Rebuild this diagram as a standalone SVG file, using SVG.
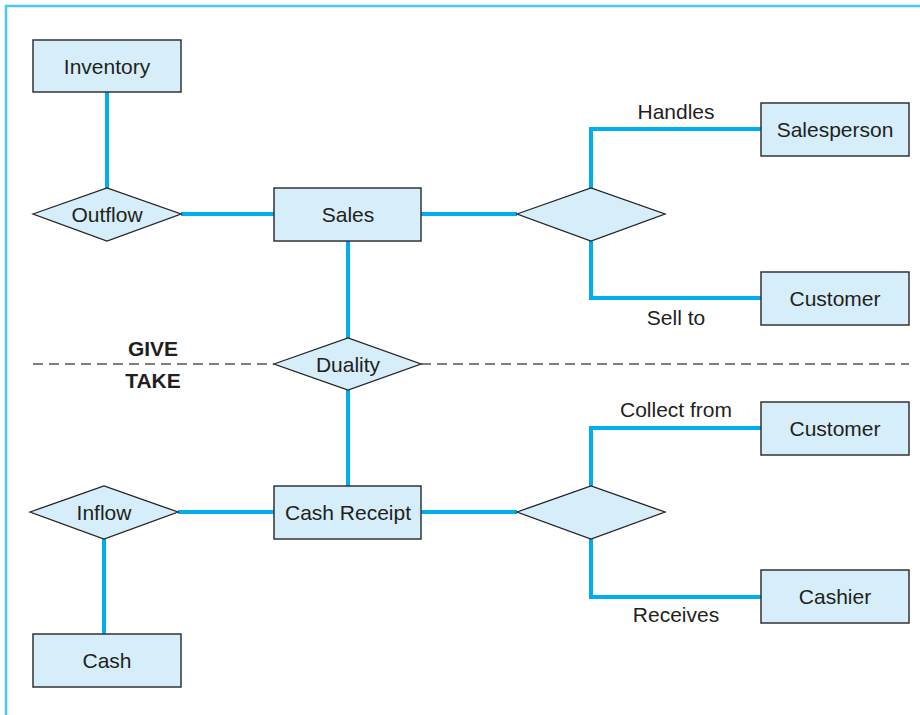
<svg xmlns="http://www.w3.org/2000/svg" width="920" height="715" viewBox="0 0 920 715">
  <style>
    .ent { fill: #d5eef9; stroke: #333; stroke-width: 1.5; }
    .rel { fill: #d5eef9; stroke: #222; stroke-width: 1.3; }
    .lbl { font-family: "Liberation Sans", Arial, sans-serif; font-size: 21px; fill: #231f20; text-anchor: middle; dominant-baseline: central; }
    .bold { font-weight: bold; }
    .link { fill: none; stroke: #00aeef; stroke-width: 4; }
    .split { fill: none; stroke: #555; stroke-width: 1.5; stroke-dasharray: 10 6; }
  </style>

  <!-- outer frame -->
  <path d="M6 715 V6 H920" fill="none" stroke="#4cc8f4" stroke-width="2.5"/>

  <!-- give/take divider -->
  <g id="divider">
    <line class="split" x1="33" y1="364" x2="274" y2="364"/>
    <line class="split" x1="421" y1="364" x2="909" y2="364"/>
    <text class="lbl bold" x="153" y="348">GIVE</text>
    <text class="lbl bold" x="153" y="380">TAKE</text>
  </g>

  <!-- connectors -->
  <g id="connectors">
    <line class="link" x1="107" y1="92" x2="107" y2="188"/>
    <line class="link" x1="181" y1="214" x2="274" y2="214"/>
    <line class="link" x1="421" y1="214" x2="517" y2="214"/>
    <polyline class="link" points="591,188 591,129 761,129"/>
    <polyline class="link" points="591,241 591,298 761,298"/>
    <line class="link" x1="348" y1="241" x2="348" y2="338"/>
    <line class="link" x1="348" y1="390" x2="348" y2="486"/>
    <line class="link" x1="178" y1="512" x2="274" y2="512"/>
    <line class="link" x1="104" y1="539" x2="104" y2="634"/>
    <line class="link" x1="421" y1="512" x2="517" y2="512"/>
    <polyline class="link" points="591,486 591,428 761,428"/>
    <polyline class="link" points="591,539 591,597 761,597"/>
    <text class="lbl" x="676" y="111">Handles</text>
    <text class="lbl" x="676" y="317">Sell to</text>
    <text class="lbl" x="676" y="409">Collect from</text>
    <text class="lbl" x="676" y="614">Receives</text>
  </g>

  <!-- entities -->
  <g id="inventory">
    <rect class="ent" x="33" y="40" width="148" height="52"/>
    <text class="lbl" x="107" y="66">Inventory</text>
  </g>
  <g id="sales">
    <rect class="ent" x="274" y="188" width="147" height="53"/>
    <text class="lbl" x="348" y="214">Sales</text>
  </g>
  <g id="salesperson">
    <rect class="ent" x="761" y="103" width="148" height="53"/>
    <text class="lbl" x="835" y="129">Salesperson</text>
  </g>
  <g id="customer-sale">
    <rect class="ent" x="761" y="272" width="148" height="53"/>
    <text class="lbl" x="835" y="298">Customer</text>
  </g>
  <g id="cash-receipt">
    <rect class="ent" x="274" y="486" width="147" height="53"/>
    <text class="lbl" x="348" y="512">Cash Receipt</text>
  </g>
  <g id="customer-receipt">
    <rect class="ent" x="761" y="402" width="148" height="53"/>
    <text class="lbl" x="835" y="428">Customer</text>
  </g>
  <g id="cashier">
    <rect class="ent" x="761" y="570" width="148" height="53"/>
    <text class="lbl" x="835" y="596">Cashier</text>
  </g>
  <g id="cash">
    <rect class="ent" x="33" y="634" width="148" height="53"/>
    <text class="lbl" x="107" y="660">Cash</text>
  </g>

  <!-- relationships -->
  <g id="outflow">
    <polygon class="rel" points="33,214 107,188 181,214 107,241"/>
    <text class="lbl" x="107" y="214">Outflow</text>
  </g>
  <g id="sale-parties">
    <polygon class="rel" points="517,214 591,188 665,214 591,241"/>
  </g>
  <g id="duality">
    <polygon class="rel" points="274,364 348,338 421,364 348,390"/>
    <text class="lbl" x="348" y="364">Duality</text>
  </g>
  <g id="inflow">
    <polygon class="rel" points="30,512 104,486 178,512 104,539"/>
    <text class="lbl" x="104" y="512">Inflow</text>
  </g>
  <g id="receipt-parties">
    <polygon class="rel" points="517,512 591,486 665,512 591,539"/>
  </g>
</svg>
